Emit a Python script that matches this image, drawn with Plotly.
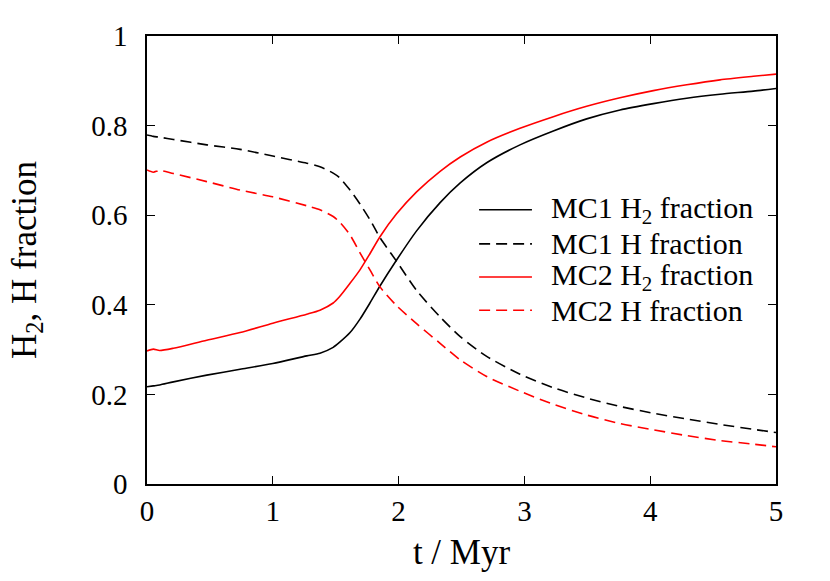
import plotly.graph_objects as go

# time in Myr
t = [0.0, 0.05, 0.10, 0.21, 0.475, 0.74, 1.0, 1.27, 1.375, 1.48, 1.53, 1.614, 1.693,
     1.772, 1.852, 1.984, 2.143, 2.33, 2.49, 2.70, 2.965, 3.23, 3.495, 3.76, 4.025,
     4.29, 4.555, 4.82, 5.0]

mc1_h2 = [0.217, 0.219, 0.221, 0.228, 0.243, 0.256, 0.269, 0.286, 0.292, 0.305, 0.316,
          0.338, 0.368, 0.404, 0.442, 0.500, 0.565, 0.628, 0.672, 0.717, 0.757, 0.788,
          0.815, 0.835, 0.849, 0.861, 0.870, 0.877, 0.883]
mc1_h = [0.779, 0.776, 0.774, 0.769, 0.757, 0.747, 0.732, 0.716, 0.708, 0.694, 0.684,
         0.656, 0.625, 0.590, 0.550, 0.497, 0.432, 0.373, 0.329, 0.285, 0.245, 0.215,
         0.192, 0.173, 0.158, 0.145, 0.133, 0.122, 0.115]
mc2_h2 = [0.297, 0.301, 0.298, 0.303, 0.321, 0.338, 0.359, 0.379, 0.388, 0.404, 0.418,
          0.448, 0.478, 0.514, 0.552, 0.603, 0.652, 0.698, 0.730, 0.763, 0.794, 0.820,
          0.843, 0.862, 0.878, 0.891, 0.902, 0.910, 0.915]
mc2_h = [0.701, 0.696, 0.700, 0.693, 0.675, 0.656, 0.641, 0.621, 0.612, 0.597, 0.585,
         0.556, 0.516, 0.478, 0.440, 0.398, 0.358, 0.314, 0.277, 0.240, 0.207, 0.178,
         0.154, 0.135, 0.121, 0.108, 0.097, 0.089, 0.083]

names = ["MC1 H<sub>2</sub> fraction", "MC1 H fraction",
         "MC2 H<sub>2</sub> fraction", "MC2 H fraction"]
values = [mc1_h2, mc1_h, mc2_h2, mc2_h]
colors = ["black", "black", "red", "red"]
dashes = ["solid", "11px,6px", "solid", "11px,6px"]

FONT = "Liberation Serif"

fig = go.Figure()
for name, y, col, dash in zip(names, values, colors, dashes):
    fig.add_trace(go.Scatter(
        x=t, y=y, mode="lines", name=name, showlegend=False,
        line=dict(color=col, width=1.6, dash=dash, shape="spline", smoothing=0.7),
    ))

# key drawn by hand so the row spacing matches the original
key_y = [0.612, 0.536, 0.462, 0.388]
for name, col, dash, ky in zip(names, colors, dashes, key_y):
    fig.add_shape(type="line", xref="paper", yref="paper",
                  x0=0.528, x1=0.612, y0=ky, y1=ky,
                  line=dict(color=col, width=1.6, dash=dash))
    fig.add_annotation(x=0.639, y=ky, xref="paper", yref="paper",
                       text=name, showarrow=False, xanchor="left", yanchor="middle",
                       font=dict(family=FONT, size=30, color="black"))

axis_common = dict(
    showline=True, linecolor="black", linewidth=1.5, mirror="ticks",
    ticks="inside", ticklen=8, tickcolor="black", tickwidth=1.2,
    showgrid=False, zeroline=False,
    tickfont=dict(family=FONT, size=29, color="black"),
)

fig.update_layout(
    width=830, height=581,
    paper_bgcolor="white", plot_bgcolor="white",
    margin=dict(l=147, r=54, t=36, b=97),
    font=dict(family=FONT, size=29, color="black"),
    xaxis=dict(range=[0, 5], dtick=1, title=dict(text="t / Myr", standoff=14),
               **axis_common),
    yaxis=dict(range=[0, 1], dtick=0.2, ticklabelstandoff=12,
               title=dict(text="H<sub>2</sub>, H fraction", standoff=44),
               **axis_common),
    showlegend=False,
)

fig.write_html("out.html", config={"displayModeBar": False},
               post_script="document.body.style.margin='0';")
